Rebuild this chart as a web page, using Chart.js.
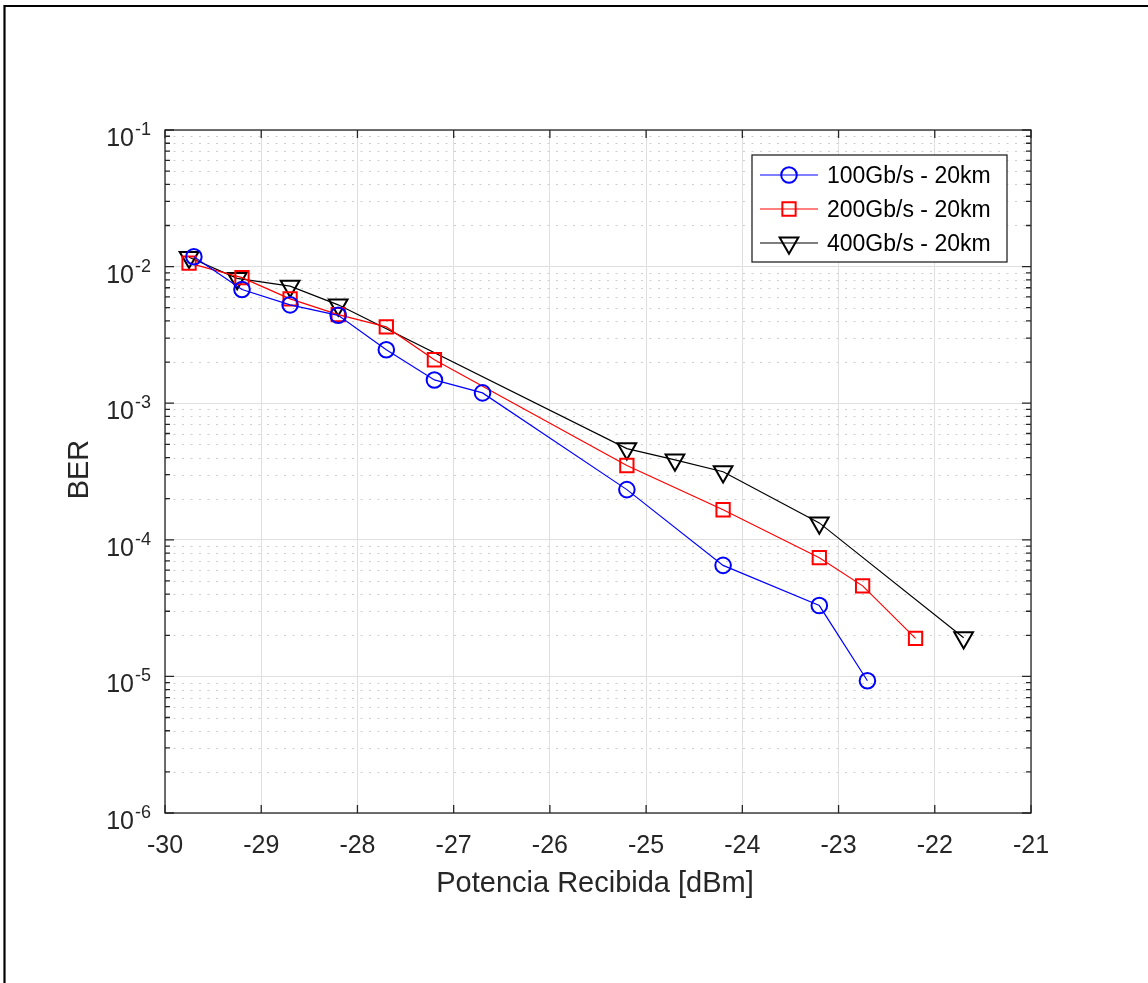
<!DOCTYPE html>
<html>
<head>
<meta charset="utf-8">
<script src="https://cdn.jsdelivr.net/npm/chart.js@4/dist/chart.umd.min.js"></script>
<style>
  html, body { margin: 0; padding: 0; background: #fff; }
  #grafico { display: block; }
</style>
</head>
<body>
<canvas id="grafico" width="1148" height="983"></canvas>
<script>
// datos
const potencia100 = [-29.7, -29.2, -28.7, -28.2, -27.7, -27.2, -26.7, -25.2, -24.2, -23.2, -22.7];
const ber100 = [1.18e-2, 6.8e-3, 5.25e-3, 4.4e-3, 2.46e-3, 1.48e-3, 1.19e-3, 2.33e-4, 6.5e-5, 3.3e-5, 9.3e-6];
const potencia200 = [-29.75, -29.2, -28.7, -28.2, -27.7, -27.2, -25.2, -24.2, -23.2, -22.75, -22.2];
const ber200 = [1.06e-2, 8.3e-3, 5.8e-3, 4.45e-3, 3.62e-3, 2.08e-3, 3.5e-4, 1.66e-4, 7.4e-5, 4.6e-5, 1.9e-5];
const potencia400 = [-29.75, -29.25, -28.7, -28.2, -25.2, -24.7, -24.2, -23.2, -21.7];
const ber400 = [1.17e-2, 8.2e-3, 7.2e-3, 5.25e-3, 4.65e-4, 3.85e-4, 3.15e-4, 1.33e-4, 1.92e-5];

const etiquetas = ["100Gb/s - 20km", "200Gb/s - 20km", "400Gb/s - 20km"];
const ticksX = [-30, -29, -28, -27, -26, -25, -24, -23, -22, -21];
const exponentesY = [-6, -5, -4, -3, -2, -1];
const tituloX = "Potencia Recibida [dBm]";
const tituloY = "BER";

const FUENTE = '"Liberation Sans", Arial, sans-serif';
const EJE = "#262626";

const esDecada = v => Math.abs(Math.log10(v) - Math.round(Math.log10(v))) < 1e-6;
const pares = (xs, ys) => xs.map((x, i) => ({ x: x, y: ys[i] }));

function serie(label, xs, ys, color, estilo, radio, rot) {
    return {
        label: label, data: pares(xs, ys),
        borderColor: color, borderWidth: 1.2, tension: 0,
        pointStyle: estilo, pointRadius: radio, pointRotation: rot,
        pointBorderColor: color, pointBackgroundColor: "transparent", pointBorderWidth: 2
    };
}

const estiloMatlab = {
    id: "estiloMatlab",
    beforeDraw(chart) {
        const ctx = chart.ctx;
        ctx.save();
        ctx.fillStyle = "#fff";
        ctx.fillRect(0, 0, chart.width, chart.height);
        // marco exterior (solo arriba e izquierda visibles)
        ctx.strokeStyle = "#000"; ctx.lineWidth = 2.2;
        ctx.beginPath();
        ctx.moveTo(4.5, chart.height); ctx.lineTo(4.5, 6); ctx.lineTo(chart.width, 6);
        ctx.stroke();
        ctx.restore();
    },
    beforeDatasetsDraw(chart) {
        const ctx = chart.ctx, a = chart.chartArea, y = chart.scales.y;
        ctx.save();
        ctx.strokeStyle = "#cdcdcd"; ctx.lineWidth = 1;
        ctx.setLineDash([2, 6.5]);
        for (let e = -6; e < -1; e++) {
            for (let m = 2; m <= 9; m++) {
                const py = Math.round(y.getPixelForValue(m * Math.pow(10, e))) + 0.5;
                ctx.beginPath(); ctx.moveTo(a.left, py); ctx.lineTo(a.right, py); ctx.stroke();
            }
        }
        ctx.restore();
    },
    afterDatasetsDraw(chart) {
        const ctx = chart.ctx, a = chart.chartArea, sx = chart.scales.x, sy = chart.scales.y;
        ctx.save();
        // caja y marcas hacia dentro
        ctx.strokeStyle = EJE; ctx.lineWidth = 1.3;
        ctx.strokeRect(a.left, a.top, a.right - a.left, a.bottom - a.top);
        ctx.beginPath();
        ticksX.forEach(v => {
            const px = sx.getPixelForValue(v);
            ctx.moveTo(px, a.bottom); ctx.lineTo(px, a.bottom - 8);
            ctx.moveTo(px, a.top); ctx.lineTo(px, a.top + 8);
        });
        for (let e = -6; e <= -1; e++) {
            for (let m = 1; m <= 9; m++) {
                if (e === -1 && m > 1) break;
                const py = sy.getPixelForValue(m * Math.pow(10, e));
                const l = m === 1 ? 9 : 5;
                ctx.moveTo(a.left, py); ctx.lineTo(a.left + l, py);
                ctx.moveTo(a.right, py); ctx.lineTo(a.right - l, py);
            }
        }
        ctx.stroke();

        // etiquetas de los ejes
        ctx.fillStyle = EJE;
        ctx.font = "25px " + FUENTE;
        ctx.textAlign = "center"; ctx.textBaseline = "alphabetic";
        ticksX.forEach(v => ctx.fillText(String(v), sx.getPixelForValue(v), a.bottom + 40));
        exponentesY.forEach(e => {
            const py = sy.getPixelForValue(Math.pow(10, e));
            ctx.font = "25px " + FUENTE; ctx.textAlign = "right";
            ctx.fillText("10", a.left - 31, py + 16);
            ctx.font = "18px " + FUENTE; ctx.textAlign = "left";
            ctx.fillText(String(e), a.left - 30, py + 5);
        });
        ctx.font = "29px " + FUENTE; ctx.textAlign = "center";
        ctx.fillText(tituloX, (a.left + a.right) / 2 - 3, 892);
        ctx.save();
        ctx.translate(88, (a.top + a.bottom) / 2 - 2);
        ctx.rotate(-Math.PI / 2);
        ctx.fillText(tituloY, 0, 0);
        ctx.restore();

        // leyenda
        const lx = 752, ly = 155, lw = 255, lh = 107;
        ctx.fillStyle = "#fff";
        ctx.fillRect(lx, ly, lw, lh);
        ctx.strokeStyle = EJE; ctx.lineWidth = 1.3;
        ctx.strokeRect(lx, ly, lw, lh);
        chart.data.datasets.forEach((ds, i) => {
            const ry = ly + 20 + i * 34;
            ctx.strokeStyle = ds.borderColor; ctx.lineWidth = ds.borderWidth;
            ctx.beginPath(); ctx.moveTo(lx + 8, ry); ctx.lineTo(lx + 66, ry); ctx.stroke();
            ctx.fillStyle = "transparent";
            ctx.lineWidth = ds.pointBorderWidth;
            Chart.helpers.drawPoint(ctx, {
                pointStyle: ds.pointStyle, rotation: ds.pointRotation,
                radius: ds.pointRadius, borderWidth: ds.pointBorderWidth
            }, lx + 37, ry);
            ctx.fillStyle = "#000";
            ctx.font = "23px " + FUENTE; ctx.textAlign = "left";
            ctx.fillText(ds.label, lx + 75, ry + 8);
        });
        ctx.restore();
    }
};

new Chart(document.getElementById("grafico"), {
    type: "line",
    data: {
        datasets: [
            serie(etiquetas[0], potencia100, ber100, "#0000ff", "circle", 7.8, 0),
            serie(etiquetas[1], potencia200, ber200, "#ff0000", "rect", 9.4, 0),
            serie(etiquetas[2], potencia400, ber400, "#000000", "triangle", 10.8, 180)
        ]
    },
    options: {
        responsive: false, animation: false,
        layout: { padding: { top: 130, right: 117, left: 0, bottom: 0 } },
        plugins: { legend: { display: false }, tooltip: { enabled: false } },
        scales: {
            x: {
                type: "linear", min: -30, max: -21,
                ticks: { display: false, stepSize: 1 },
                grid: { color: "#dfdfdf", drawTicks: false },
                border: { display: false },
                afterFit: s => { s.height = 170; }
            },
            y: {
                type: "logarithmic", min: 1e-6, max: 1e-1,
                ticks: { display: false, autoSkip: false },
                grid: { color: c => (c.tick && esDecada(c.tick.value)) ? "#dfdfdf" : "transparent", drawTicks: false },
                border: { display: false },
                afterFit: s => { s.width = 165; }
            }
        }
    },
    plugins: [estiloMatlab]
});
</script>
</body>
</html>
